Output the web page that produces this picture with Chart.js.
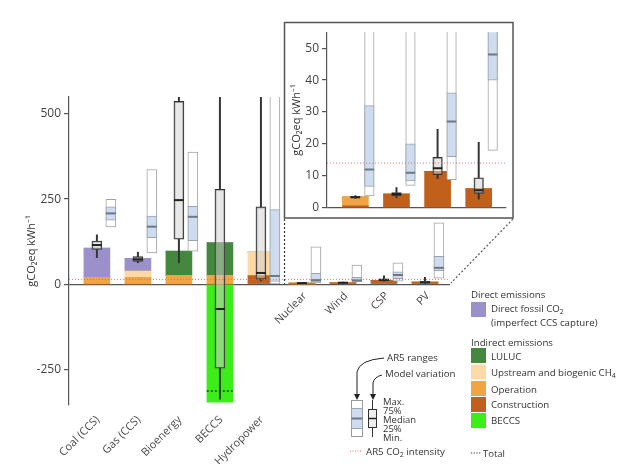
<!DOCTYPE html>
<html>
<head>
<meta charset="utf-8">
<script src="https://cdn.jsdelivr.net/npm/chart.js@4.4.0/dist/chart.umd.min.js"></script>
<style>
  body { margin: 0; background: #fff; }
  #wrap { position: relative; width: 626px; height: 464px; overflow: hidden; font-family: "Open Sans", sans-serif; }
  #main { position: absolute; left: 0; top: 0; }
  #inset { position: absolute; left: 284px; top: 22px; background: #fff; }
  #over { position: absolute; left: 0; top: 0; }
  #over text { font-family: "Open Sans", sans-serif; fill: #333; }
</style>
</head>
<body>
<div id="wrap">
  <canvas id="main" width="626" height="464"></canvas>
  <canvas id="inset" width="229" height="196"></canvas>
  <svg id="over" width="626" height="464">
    <!-- inset frame + zoom connectors -->
    <rect x="284.5" y="22.5" width="228.5" height="195.5" fill="none" stroke="#555" stroke-width="1.5"/>
    <line x1="284.5" y1="219" x2="284.5" y2="284" stroke="#334" stroke-width="1.2" stroke-dasharray="2,2"/>
    <line x1="513" y1="219" x2="451" y2="283" stroke="#556" stroke-width="1.2" stroke-dasharray="2,2"/>

    <!-- colour legend -->
    <text x="471" y="294" font-size="9.7" dominant-baseline="central">Direct emissions</text>
    <rect x="471" y="302" width="15" height="15" fill="#9c90cb"/>
    <text x="491" y="308" font-size="9.7" dominant-baseline="central">Direct fossil CO<tspan font-size="7" dy="3">2</tspan></text>
    <text x="491" y="322" font-size="9.7" dominant-baseline="central">(imperfect CCS capture)</text>
    <text x="471" y="342" font-size="9.7" dominant-baseline="central">Indirect emissions</text>
    <rect x="471" y="348" width="15" height="15" fill="#43883e"/>
    <text x="491" y="356" font-size="9.7" dominant-baseline="central">LULUC</text>
    <rect x="471" y="364.5" width="15" height="15" fill="#fdd9a6"/>
    <text x="491" y="372" font-size="9.7" dominant-baseline="central">Upstream and biogenic CH<tspan font-size="7" dy="3">4</tspan></text>
    <rect x="471" y="381" width="15" height="15" fill="#f0a443"/>
    <text x="491" y="389" font-size="9.7" dominant-baseline="central">Operation</text>
    <rect x="471" y="397" width="15" height="15" fill="#c1601a"/>
    <text x="491" y="404" font-size="9.7" dominant-baseline="central">Construction</text>
    <rect x="471" y="413" width="15" height="15" fill="#3ded1a"/>
    <text x="491" y="420" font-size="9.7" dominant-baseline="central">BECCS</text>
    <line x1="471" y1="453" x2="481" y2="453" stroke="#333" stroke-width="1.2" stroke-dasharray="1.2,1.5"/>
    <text x="483" y="453" font-size="9.5" dominant-baseline="central">Total</text>

    <!-- box legend -->
    <text x="387" y="357" font-size="9.7" dominant-baseline="central">AR5 ranges</text>
    <text x="385" y="373" font-size="9.7" dominant-baseline="central">Model variation</text>
    <path d="M384,358 Q359,360 357,372 L357,395" fill="none" stroke="#222" stroke-width="1"/>
    <polygon points="354,394 360,394 357,400" fill="#222"/>
    <path d="M382,375 Q374,377 373,383 L373,395" fill="none" stroke="#222" stroke-width="1"/>
    <polygon points="370,394 376,394 373,400" fill="#222"/>
    <rect x="351.5" y="400.5" width="11" height="36" fill="#fff" stroke="#999"/>
    <rect x="351.5" y="408.5" width="11" height="20" fill="#cfdcef" stroke="#9aa4ae"/>
    <line x1="351.5" y1="418.5" x2="362.5" y2="418.5" stroke="#6c7884" stroke-width="2"/>
    <line x1="372.5" y1="400" x2="372.5" y2="437" stroke="#333" stroke-width="1"/>
    <rect x="368.5" y="409.5" width="8" height="18" fill="#eee" stroke="#333"/>
    <line x1="368.5" y1="418.5" x2="376.5" y2="418.5" stroke="#222" stroke-width="1.5"/>
    <text x="383" y="401" font-size="9.5" dominant-baseline="central">Max.</text>
    <text x="383" y="410" font-size="9.5" dominant-baseline="central">75%</text>
    <text x="383" y="419.5" font-size="9.5" dominant-baseline="central">Median</text>
    <text x="383" y="428.5" font-size="9.5" dominant-baseline="central">25%</text>
    <text x="383" y="437.5" font-size="9.5" dominant-baseline="central">Min.</text>
    <line x1="350" y1="451" x2="362" y2="451" stroke="#e77" stroke-width="1" stroke-dasharray="1,1.5"/>
    <text x="366" y="451" font-size="9.7" dominant-baseline="central">AR5 CO<tspan font-size="7" dy="3">2</tspan><tspan dy="-3"> intensity</tspan></text>
  </svg>
</div>

<script>
// categories (gCO2eq per kWh)
const categories = ["Coal (CCS)", "Gas (CCS)", "Bioenergy", "BECCS", "Hydropower", "Nuclear", "Wind", "CSP", "PV"];

// stacked emission components
const construction = [0, 0, 0, 0, 25, 0.6, 4.3, 11.4, 6.0];
const operation    = [19, 20, 25, 25, 0, 2.9, 0, 0, 0];
const upstreamCH4  = [0, 19, 0, 0, 69, 0, 0, 0, 0];
const luluc        = [0, 0, 72, 97, 0, 0, 0, 0, 0];
const fossilCO2    = [87, 37, 0, 0, 0, 0, 0, 0, 0];
const beccsRemoval = [0, 0, 0, -347, 0, 0, 0, 0, 0];
const netTotal     = [null, null, null, -314, null, null, null, null, null];

// model variation (box plot)
const modelMin = [78, 63, 63, -338, 10, 2.9, 3.2, 9.1, 2.7];
const modelQ25 = [102, 67, 132, -247, 15, 3.1, 3.8, 10.4, 4.5];
const modelMed = [115, 73, 247, -73, 33, 3.3, 4.3, 12.4, 5.5];
const modelQ75 = [127, 81, 537, 279, 227, 3.6, 4.8, 15.8, 9.4];
const modelMax = [145, 94, 560, 600, 600, 3.8, 6.3, 24.6, 20.5];

// AR5 ranges
const ar5Min = [168, 92, 97, null, 1, 3.7, 7.0, 8.8, 18];
const ar5Q25 = [188, 137, 128, null, 8, 6.7, 8.4, 16, 40];
const ar5Med = [208, 169, 198, null, 24, 12, 11, 27, 48];
const ar5Q75 = [227, 200, 229, null, 219, 32, 20, 36, 82];
const ar5Max = [249, 337, 388, null, 2200, 110, 56, 63, 180];
const ar5Intensity = 14;

const mainTicks = [-250, 0, 250, 500];
const insetTicks = [0, 10, 20, 30, 40, 50];

const colors = {
  construction: "#c1601a", operation: "#f0a443", upstream: "#fdd9a6",
  luluc: "#43883e", fossil: "#9c90cb", beccs: "#3ded1a"
};
const ar5Shift = 0.34;
const FONT = '"Open Sans", sans-serif';

const floating = (name, idx, lo, hi, shift, w, fill, border, order) => ({
  type: "bar", label: name, stack: name, order,
  data: idx.map(i => ({ x: i + shift, y: [lo[i], hi[i]] })),
  backgroundColor: fill, borderColor: border || fill, borderWidth: border ? 1 : 0,
  borderSkipped: false, barThickness: w, grouped: false
});

const medians = (name, idx, med, shift, r, color, order) => ({
  type: "line", label: name, stack: name, order, showLine: false,
  data: idx.map(i => ({ x: i + shift, y: med[i] })),
  pointStyle: "line", pointRadius: r, pointHoverRadius: r,
  pointBorderWidth: 2, pointBorderColor: color, pointBackgroundColor: color
});

const buildDatasets = (idx, s) => {
  const ds = [];
  const comps = [
    ["Construction", construction, colors.construction],
    ["Operation", operation, colors.operation],
    ["Upstream", upstreamCH4, colors.upstream],
    ["LULUC", luluc, colors.luluc],
    ["Direct fossil CO2", fossilCO2, colors.fossil],
    ["BECCS", beccsRemoval, colors.beccs]
  ];
  comps.forEach(([label, arr, color]) => ds.push({
    type: "bar", label, stack: "comp", order: 10,
    data: idx.map(i => ({ x: i, y: arr[i] })),
    backgroundColor: color, barThickness: s.bar, grouped: false
  }));
  const a = idx.filter(i => ar5Max[i] !== null);
  ds.push(floating("ar5Range", a, ar5Min, ar5Max, ar5Shift, s.ar5, "#ffffff", "#a3a3a3", 9));
  ds.push(floating("ar5IQR", a, ar5Q25, ar5Q75, ar5Shift, s.ar5, "#cfdcef", "#9aa4ae", 8));
  ds.push(medians("ar5Med", a, ar5Med, ar5Shift, s.ar5 / 2, "#6c7884", 7));
  ds.push(floating("whLo", idx, modelMin, modelQ25, 0, 1.3, "#333", null, 6));
  ds.push(floating("whHi", idx, modelQ75, modelMax, 0, 1.3, "#333", null, 6));
  ds.push(floating("modelBox", idx, modelQ25, modelQ75, 0, s.box, "rgba(208,208,208,0.5)", "#333", 5));
  ds.push(medians("modelMed", idx, modelMed, 0, s.box / 2, "#222", 4));
  return ds;
};

const redLine = (xmin, xmax) => ({
  type: "line", label: "AR5 intensity", stack: "red", order: 2,
  data: [{ x: xmin, y: ar5Intensity }, { x: xmax, y: ar5Intensity }],
  borderColor: "rgba(230,100,100,0.85)", borderWidth: 1, borderDash: [1, 2], pointRadius: 0
});

const yAxis = (min, max, ticks, width, titlePad) => ({
  type: "linear", stacked: true, min, max,
  afterBuildTicks: s => { s.ticks = ticks.map(v => ({ value: v })); },
  afterFit: s => { s.width = width; },
  ticks: { font: { family: FONT, size: 12 }, color: "#444", padding: 3 },
  grid: {
    color: c => (c.tick && c.tick.value === 0 ? "#555" : "rgba(0,0,0,0)"),
    tickColor: "#555", tickLength: 5, lineWidth: 1.2
  },
  border: { color: "#555", width: 1.2 },
  title: {
    display: true, text: "gCO₂eq kWh⁻¹", color: "#333",
    font: { family: FONT, size: 11 }, padding: { top: titlePad, bottom: 0 }
  }
});

// category names drawn through the x scale
const catLabels = {
  id: "catLabels",
  afterDraw(chart) {
    const { ctx, scales: { x, y } } = chart;
    ctx.save();
    ctx.font = "11px " + FONT;
    ctx.fillStyle = "#4a4a4a";
    ctx.textAlign = "right";
    ctx.textBaseline = "middle";
    categories.forEach((c, i) => {
      const low = i < 5;
      const px = x.getPixelForValue(i) + (low ? 1 : 3);
      const py = low ? y.bottom + 13 : y.getPixelForValue(0) + 10;
      ctx.save();
      ctx.translate(px, py);
      ctx.rotate(-Math.PI / 4);
      ctx.fillText(c, 0, 0);
      ctx.restore();
    });
    ctx.restore();
  }
};

// main chart
const mainIdx = categories.map((c, i) => i);
const xMinMain = -0.68, xMaxMain = 8.61;
const mainSets = buildDatasets(mainIdx, { bar: 26, box: 10, ar5: 10 });
const totIdx = mainIdx.filter(i => netTotal[i] !== null);
totIdx.forEach(i => mainSets.push({
  type: "line", label: "Total", stack: "total" + i, order: 3,
  data: [{ x: i - 0.32, y: netTotal[i] }, { x: i + 0.32, y: netTotal[i] }],
  borderColor: "#163f16", borderWidth: 1.5, borderDash: [2, 2], pointRadius: 0
}));
mainSets.push(redLine(xMinMain, xMaxMain));

new Chart(document.getElementById("main"), {
  type: "bar",
  data: { datasets: mainSets },
  options: {
    responsive: false, animation: false,
    layout: { padding: { left: 0, right: 176, top: 97, bottom: 59 } },
    plugins: { legend: { display: false }, tooltip: { enabled: false } },
    scales: {
      x: { type: "linear", min: xMinMain, max: xMaxMain, display: false, offset: false },
      y: yAxis(-355, 550, mainTicks, 69, 25)
    }
  },
  plugins: [catLabels]
});

// inset (zoom on the low-carbon options)
const insetIdx = [5, 6, 7, 8];
const xMinInset = 4.31, xMaxInset = 8.67;
const insetSets = buildDatasets(insetIdx, { bar: 26, box: 9.5, ar5: 9.5 });
insetSets.push(redLine(xMinInset, xMaxInset));

new Chart(document.getElementById("inset"), {
  type: "bar",
  data: { datasets: insetSets },
  options: {
    responsive: false, animation: false,
    layout: { padding: { left: 0, right: 3, top: 2, bottom: 6 } },
    plugins: { legend: { display: false }, tooltip: { enabled: false } },
    scales: {
      x: { type: "linear", min: xMinInset, max: xMaxInset, display: false, offset: false },
      y: yAxis(0, 55, insetTicks, 43, 6)
    }
  }
});
</script>
</body>
</html>
